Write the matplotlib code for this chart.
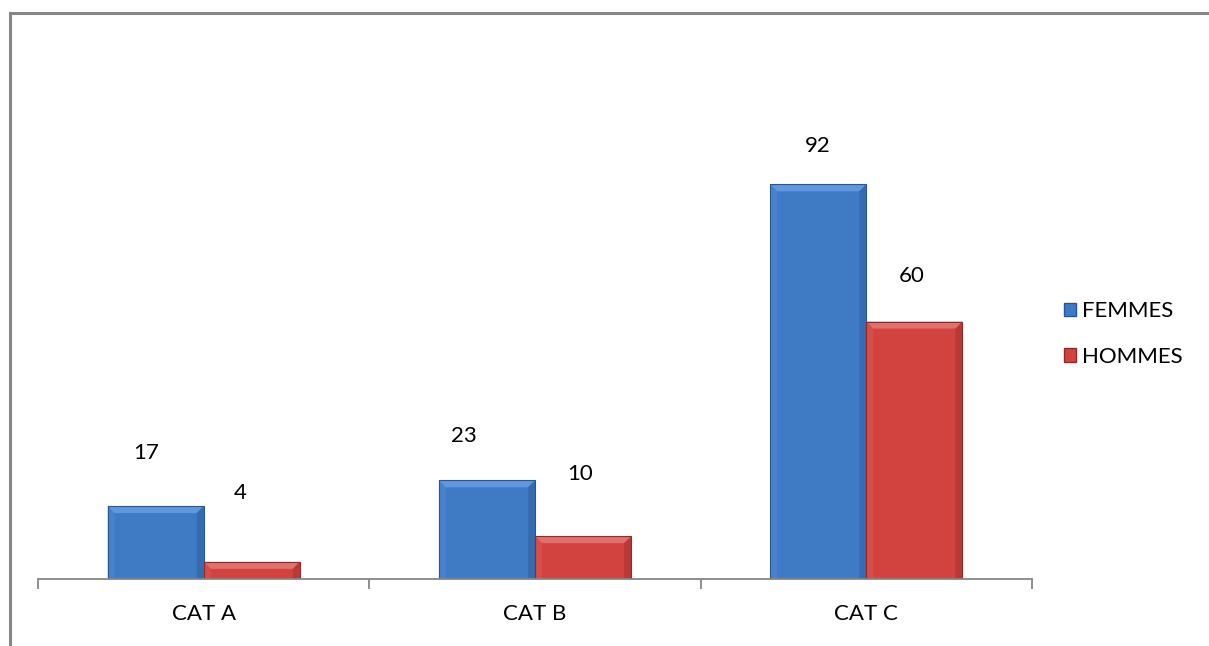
import matplotlib
matplotlib.use("Agg")
import matplotlib.pyplot as plt
from matplotlib.patches import Polygon, Rectangle
from matplotlib.lines import Line2D

# Effectifs par catégorie
categories = ["CAT A", "CAT B", "CAT C"]
femmes = [17, 23, 92]
hommes = [4, 10, 60]
series_names = ["FEMMES", "HOMMES"]

plt.rcParams['font.family'] = ['Lato', 'DejaVu Sans']

W, H, DPI = 1209, 646, 100
fig = plt.figure(figsize=(W / DPI, H / DPI), dpi=DPI)

# outer chart border (top and left visible)
fig.add_artist(Line2D([10 / W, 1.0], [1 - 13 / H, 1 - 13 / H], color='#868686', lw=2.2))
fig.add_artist(Line2D([10 / W, 10 / W], [0, 1 - 13 / H], color='#868686', lw=2.2))

ax_left, ax_right = 38, 1032
ax_bottom, ax_top = 579, 150
ax = fig.add_axes([ax_left / W, 1 - ax_bottom / H, (ax_right - ax_left) / W, (ax_bottom - ax_top) / H])
ax.set_xlim(-0.5, len(categories) - 0.5)
ax.set_ylim(0, 100)

# pixel -> data scale, used for the bevel width
px_x = (len(categories)) / (ax_right - ax_left)
px_y = 100 / (ax_bottom - ax_top)

width = 0.29
x = list(range(len(categories)))

styles = [
    dict(face='#3F7BC5', top='#5F98DC', left='#4F8AD2', right='#30629F', edge='#2A5590'),
    dict(face='#D24340', top='#E4706D', left='#DB5754', right='#A63432', edge='#8E2A28'),
]


def bevel_bar(x0, h, st):
    x1 = x0 + width
    bx, by = 7 * px_x, 7 * px_y
    by = min(by, h / 2)
    bx_ = min(bx, width / 2)
    ax.add_patch(Rectangle((x0, 0), width, h, facecolor=st['face'], edgecolor='none', zorder=2))
    # top face
    ax.add_patch(Polygon([(x0, h), (x1, h), (x1 - bx_, h - by), (x0 + bx_, h - by)],
                         facecolor=st['top'], edgecolor='none', zorder=3))
    # left face
    ax.add_patch(Polygon([(x0, 0), (x0, h), (x0 + bx_, h - by), (x0 + bx_, 0)],
                         facecolor=st['left'], edgecolor='none', zorder=3, alpha=0.5))
    # right face
    ax.add_patch(Polygon([(x1, 0), (x1, h), (x1 - bx_, h - by), (x1 - bx_, 0)],
                         facecolor=st['right'], edgecolor='none', zorder=3, alpha=0.6))
    # thin outline
    ax.add_patch(Rectangle((x0, 0), width, h, facecolor='none', edgecolor=st['edge'],
                           lw=0.8, zorder=4))


label_offsets = [[53, 69], [44, 62], [38, 46]]
label_dx = [[-9, -12], [-23, -3], [-1, -3]]

for i in x:
    for s, vals in enumerate([femmes, hommes]):
        x0 = i - width + s * width
        bevel_bar(x0, vals[i], styles[s])
        cx = x0 + width / 2 + label_dx[i][s] * px_x
        ax.text(cx, vals[i] + label_offsets[i][s] * px_y, str(vals[i]),
                ha='center', va='center', fontsize=16, color='#000000', zorder=5)

for sp in ['top', 'right', 'left']:
    ax.spines[sp].set_visible(False)
ax.spines['bottom'].set_color('#868686')
ax.spines['bottom'].set_linewidth(1.3)
ax.spines['bottom'].set_zorder(5)
ax.set_yticks([])

ax.set_xticks(x)
ax.set_xticklabels(categories, fontsize=16)
ax.tick_params(axis='x', which='major', length=0, pad=18)
ax.set_xticks([-0.5 + k for k in range(len(categories) + 1)], minor=True)
ax.tick_params(axis='x', which='minor', length=7, width=1.3, color='#868686', direction='out')

# legend
leg_handles = [Rectangle((0, 0), 1, 1, facecolor=styles[0]['face'], edgecolor=styles[0]['edge']),
               Rectangle((0, 0), 1, 1, facecolor=styles[1]['face'], edgecolor=styles[1]['edge'])]
fig.legend(leg_handles, series_names, loc='center left', bbox_to_anchor=(1064 / W, 1 - 334 / H),
           frameon=False, fontsize=16, handlelength=0.55, handleheight=0.55,
           handletextpad=0.25, labelspacing=1.15, borderaxespad=0, borderpad=0)

fig.savefig('out.png', dpi=DPI, facecolor='white')
